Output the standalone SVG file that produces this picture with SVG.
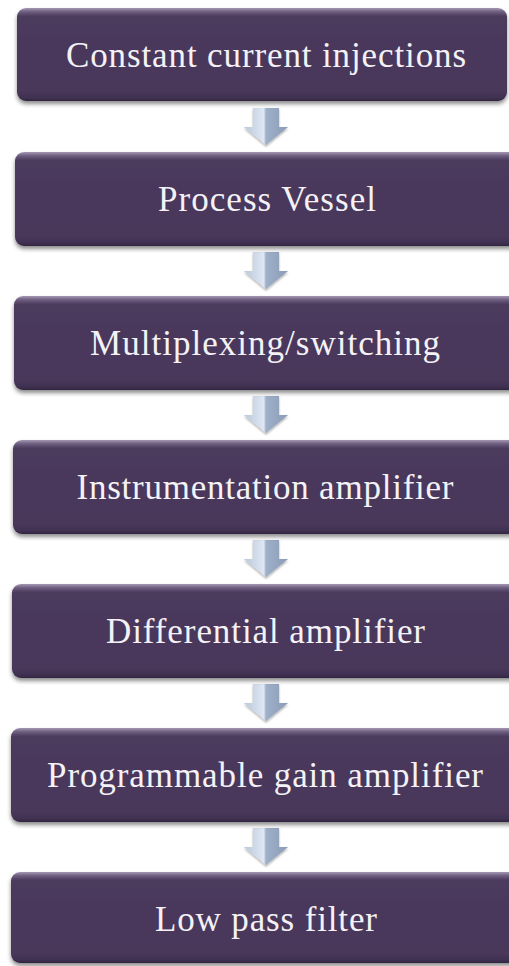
<svg xmlns="http://www.w3.org/2000/svg" width="509" height="966" viewBox="0 0 509 966">
<defs>
<linearGradient id="boxg" x1="0" y1="0" x2="0" y2="1">
<stop offset="0" stop-color="#a598b4"/>
<stop offset="0.04" stop-color="#6e5f80"/>
<stop offset="0.09" stop-color="#4b3a5d"/>
<stop offset="0.9" stop-color="#48375a"/>
<stop offset="0.97" stop-color="#3f2f50"/>
<stop offset="1" stop-color="#2f2340"/>
</linearGradient>
<linearGradient id="arrg" x1="0" y1="0" x2="1" y2="0">
<stop offset="0" stop-color="#b9c7dc"/>
<stop offset="0.45" stop-color="#dfe7f3"/>
<stop offset="0.5" stop-color="#9fb0c9"/>
<stop offset="1" stop-color="#8a9bb6"/>
</linearGradient>
<filter id="sh" x="-5%" y="-10%" width="110%" height="125%">
<feDropShadow dx="0" dy="3" stdDeviation="2" flood-color="#000" flood-opacity="0.45"/>
</filter>
<filter id="ash" x="-30%" y="-30%" width="160%" height="160%">
<feDropShadow dx="0" dy="1.5" stdDeviation="1.2" flood-color="#000" flood-opacity="0.35"/>
</filter>
</defs>
<style>
.box{fill:url(#boxg);filter:url(#sh)}
.lbl{font-family:"Liberation Serif","Times New Roman",serif;font-size:35px;fill:#f4f2f6;text-anchor:middle}
.arr{fill:url(#arrg);filter:url(#ash)}
</style>
<rect width="509" height="966" fill="#ffffff"/>
<g id="connectors">
<path class="arr" d="M253,108 H279 V127 H288 L266,145 L244,127 H253 Z"/>
<path class="arr" d="M253,252 H279 V271 H288 L266,289 L244,271 H253 Z"/>
<path class="arr" d="M253,396 H279 V415 H288 L266,433 L244,415 H253 Z"/>
<path class="arr" d="M253,540 H279 V559 H288 L266,577 L244,559 H253 Z"/>
<path class="arr" d="M253,684 H279 V703 H288 L266,721 L244,703 H253 Z"/>
<path class="arr" d="M253,828 H279 V847 H288 L266,865 L244,847 H253 Z"/>
</g>
<g id="n1"><rect class="box" x="17" y="8" width="490" height="93" rx="9"/><text class="lbl" x="266" y="67" textLength="400" lengthAdjust="spacing">Constant current injections</text></g>
<g id="n2"><rect class="box" x="15" y="152" width="505" height="94" rx="9"/><text class="lbl" x="267" y="211" textLength="218" lengthAdjust="spacing">Process Vessel</text></g>
<g id="n3"><rect class="box" x="14" y="296" width="506" height="94" rx="9"/><text class="lbl" x="265" y="355" textLength="350" lengthAdjust="spacing">Multiplexing/switching</text></g>
<g id="n4"><rect class="box" x="13" y="440" width="507" height="94" rx="9"/><text class="lbl" x="265" y="499" textLength="377" lengthAdjust="spacing">Instrumentation amplifier</text></g>
<g id="n5"><rect class="box" x="12" y="584" width="508" height="94" rx="9"/><text class="lbl" x="265.5" y="643" textLength="319" lengthAdjust="spacing">Differential amplifier</text></g>
<g id="n6"><rect class="box" x="11" y="728" width="509" height="94" rx="9"/><text class="lbl" x="265" y="787" textLength="436" lengthAdjust="spacing">Programmable gain amplifier</text></g>
<g id="n7"><rect class="box" x="11" y="872" width="509" height="91" rx="9"/><text class="lbl" x="266" y="931" textLength="222" lengthAdjust="spacing">Low pass filter</text></g>
</svg>
